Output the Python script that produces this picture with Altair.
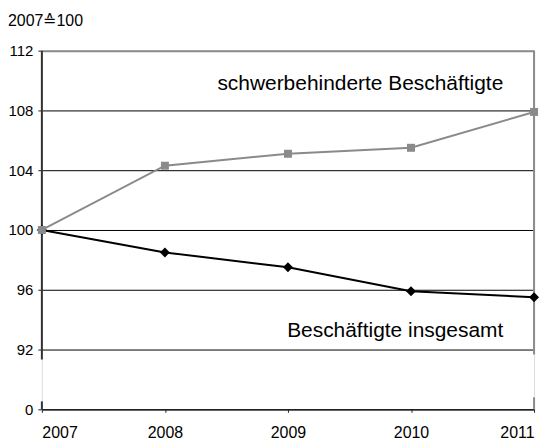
import altair as alt
import pandas as pd

# ---- data ----
years = [2007, 2008, 2009, 2010, 2011]
schwerbehindert = [100.0, 104.3, 105.1, 105.5, 107.9]
insgesamt = [100.0, 98.5, 97.5, 95.9, 95.5]
y_ticks = [0, 92, 96, 100, 104, 108, 112]

label_schwer = "schwerbehinderte Beschäftigte"
label_gesamt = "Beschäftigte insgesamt"
label_x = [2010.75, 2010.75]
label_y = [109.4, 92.87]
title_text = "2007\u2259100"

# broken-axis frame segments (in data units)
axis_x = [2007, 2007]
axis_y = [91.33, 0]
axis_y2 = [112, 8]
border_x = [2011, 2011]
border_y = [91.67, 0]
border_y2 = [112, 12]

# ---- tables ----
df_s = pd.DataFrame({"year": years, "value": schwerbehindert})
df_g = pd.DataFrame({"year": years, "value": insgesamt})
df_lab = pd.DataFrame({"year": label_x, "value": label_y,
                       "text": [label_schwer, label_gesamt]})
df_axis = pd.DataFrame({"year": axis_x, "value": axis_y, "value2": axis_y2})
df_border = pd.DataFrame({"year": border_x, "value": border_y, "value2": border_y2})

FONT = "Liberation Sans"
GRAY = "#8a8a8a"

xscale = alt.Scale(domain=[2007, 2011], nice=False, zero=False)
xaxis = alt.Axis(values=years, format="d", title=None, grid=False,
                 domainColor="#222222", domainWidth=1.5,
                 tickColor="#222222", tickSize=3, labelPadding=12,
                 labelFontSize=16, labelColor="black", labelFont=FONT)
# piecewise scale: lower part compressed (broken axis)
yscale = alt.Scale(domain=[0, 12, 91, 112], range=[360, 348, 315, 0],
                   nice=False, zero=False)
yaxis = alt.Axis(values=y_ticks, title=None, domain=False,
                 grid=True,
                 gridColor={"condition": {"test": "datum.value === 112", "value": GRAY},
                            "value": "black"},
                 gridWidth={"condition": {"test": "datum.value === 112", "value": 2},
                            "value": 1},
                 tickColor="#222222", tickSize=4, labelPadding=5,
                 labelFontSize=15, labelColor="black", labelFont=FONT)

X = alt.X("year:Q", scale=xscale, axis=xaxis)
Y = alt.Y("value:Q", scale=yscale, axis=yaxis)

axis_rules = alt.Chart(df_axis).mark_rule(strokeWidth=2, color="#333333").encode(
    x=X, y=Y, y2="value2:Q")
border_rules = alt.Chart(df_border).mark_rule(strokeWidth=2, color=GRAY).encode(
    x=X, y=Y, y2="value2:Q")

line_g = alt.Chart(df_g).mark_line(color="black", strokeWidth=2).encode(x=X, y=Y)
pts_g = alt.Chart(df_g).mark_point(shape="diamond", filled=True, color="black",
                                   size=100, opacity=1).encode(x=X, y=Y)
line_s = alt.Chart(df_s).mark_line(color=GRAY, strokeWidth=2).encode(x=X, y=Y)
pts_s = alt.Chart(df_s).mark_point(shape="square", filled=True, color=GRAY,
                                   size=64, opacity=1).encode(x=X, y=Y)

labels = alt.Chart(df_lab).mark_text(align="right", baseline="alphabetic",
                                     fontSize=21, font=FONT, color="black").encode(
    x=X, y=Y, text="text:N")

chart = alt.layer(axis_rules, border_rules, line_g, pts_g, line_s, pts_s, labels).properties(
    width=494, height=360,
    autosize=alt.AutoSizeParams(type="none"),
    padding={"left": 34, "top": 42, "right": 15, "bottom": 33},
    title=alt.Title(title_text, anchor="start", frame="bounds", fontSize=16,
                    fontWeight="normal", font=FONT, color="black", offset=15),
).configure_view(stroke=None).configure(background="white")

chart.save("out.html", embed_options={"renderer": "svg", "actions": False})
